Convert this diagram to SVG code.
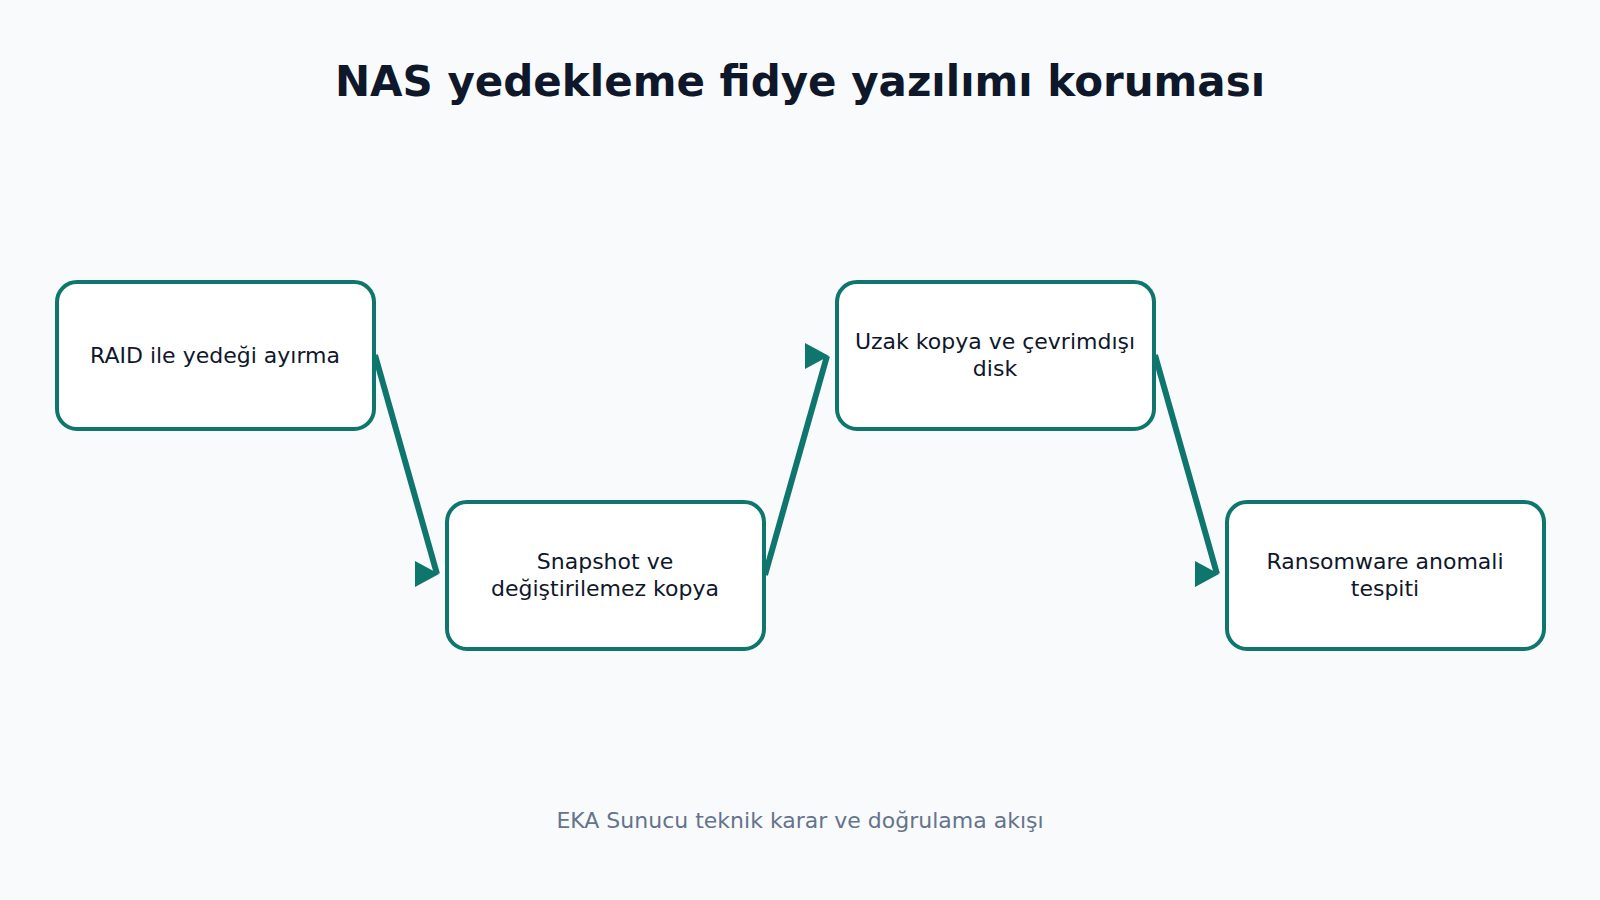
<svg xmlns="http://www.w3.org/2000/svg" width="1600" height="900" viewBox="0 0 1600 900">
<style>
.bg{fill:#f8fafc}
.node rect{fill:#ffffff;stroke:#0f766e;stroke-width:4}
.node text{font-family:"DejaVu Sans",sans-serif;font-size:22px;fill:#0f172a;text-anchor:middle}
.title{font-family:"DejaVu Sans",sans-serif;font-size:42px;font-weight:700;fill:#0f172a;text-anchor:middle}
.sub{font-family:"DejaVu Sans",sans-serif;font-size:22px;fill:#64748b;text-anchor:middle}
.conn line{stroke:#0f766e;stroke-width:6;marker-end:url(#ah)}
</style>
<defs>
<marker id="ah" markerUnits="userSpaceOnUse" markerWidth="24" markerHeight="26" viewBox="0 0 24 26" refX="22" refY="13">
<path d="M0,0 L24,13 L0,26 z" fill="#0f766e"/>
</marker>
</defs>
<rect class="bg" x="0" y="0" width="1600" height="900"/>
<text class="title" x="800" y="96">NAS yedekleme fidye yazılımı koruması</text>
<g class="conn">
<line x1="375" y1="355" x2="437" y2="574"/>
<line x1="765" y1="575" x2="827" y2="356"/>
<line x1="1155" y1="355" x2="1217" y2="574"/>
</g>
<g id="n1" class="node">
<rect x="57" y="282" width="317" height="147" rx="20"/>
<text x="215" y="363">RAID ile yedeği ayırma</text>
</g>
<g id="n2" class="node">
<rect x="447" y="502" width="317" height="147" rx="20"/>
<text x="605" y="569">Snapshot ve</text>
<text x="605" y="596">değiştirilemez kopya</text>
</g>
<g id="n3" class="node">
<rect x="837" y="282" width="317" height="147" rx="20"/>
<text x="995" y="349">Uzak kopya ve çevrimdışı</text>
<text x="995" y="376">disk</text>
</g>
<g id="n4" class="node">
<rect x="1227" y="502" width="317" height="147" rx="20"/>
<text x="1385" y="569">Ransomware anomali</text>
<text x="1385" y="596">tespiti</text>
</g>
<text class="sub" x="800" y="828">EKA Sunucu teknik karar ve doğrulama akışı</text>
</svg>
